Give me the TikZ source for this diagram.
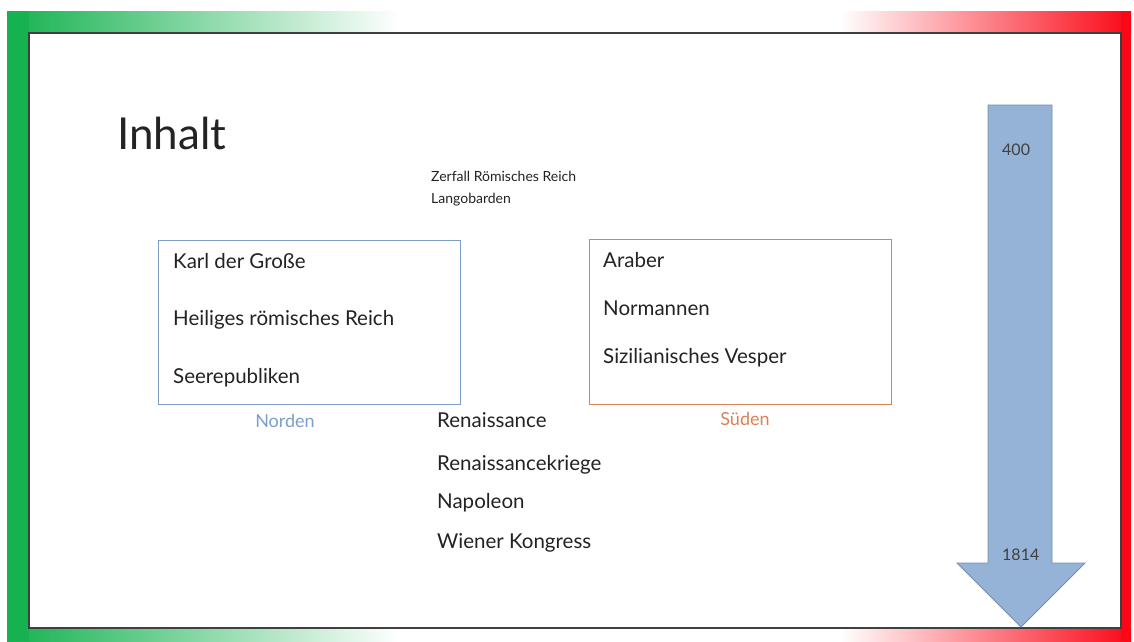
\documentclass[tikz,border=0pt]{standalone}
\usepackage{fontspec}
\setmainfont{Lato}
\usepackage{tikz}
\usetikzlibrary{positioning}
\definecolor{flaggreen}{RGB}{22,178,80}
\definecolor{flagred}{RGB}{250,8,22}
\definecolor{nordblue}{RGB}{125,158,200}
\definecolor{suedorange}{RGB}{222,128,82}
\definecolor{arrowblue}{RGB}{149,179,215}
\definecolor{txt}{RGB}{35,35,35}

\begin{document}
\begin{tikzpicture}[
      x=1pt,y=-1pt,
      item/.style={anchor=base west,inner sep=0pt,text=txt,font=\fontsize{20.5}{24}\selectfont},
      small/.style={anchor=base west,inner sep=0pt,text=txt,font=\fontsize{14}{16}\selectfont},
      region/.style={draw,line width=1pt,minimum width=302pt,minimum height=164pt,inner sep=0pt},
      side/.style={anchor=base,inner sep=0pt,font=\fontsize{18}{21}\selectfont},
      year/.style={anchor=base west,inner sep=0pt,text=black!75,font=\fontsize{16}{18}\selectfont}
    ]
    \useasboundingbox (0,0) rectangle (1134,641);
    % frame in the colours of the flag
    \shade[left color=flaggreen,right color=white] (7,11) rectangle (400,33);
    \shade[left color=white,right color=flagred] (840,11) rectangle (1131,33);
    \shade[left color=flaggreen,right color=white] (7,628) rectangle (400,641);
    \shade[left color=white,right color=flagred] (840,628) rectangle (1131,641);
    \fill[flaggreen] (7,11) rectangle (29,641);
    \fill[flagred] (1121,11) rectangle (1131,641);
    \draw[black!75,line width=1.2pt,fill=white] (29,33) rectangle (1121,628);

    \node[anchor=base west,inner sep=0pt,text=txt,font=\fontsize{44}{52}\selectfont] (title) at (117,149) {Inhalt};

    \node[small] (zerfall) at (431,181) {Zerfall Römisches Reich};
    \node[small] (lango) at (431,203) {Langobarden};

    % Norden
    \node[region,draw=nordblue] (nord) at (309,322) {};
    \node[item] (karl) at (173,268) {Karl der Große};
    \node[item] (hrr) at (173,325) {Heiliges römisches Reich};
    \node[item] (see) at (173,383) {Seerepubliken};
    \node[side,text=nordblue] (nordlbl) at (285,427) {Norden};

    % Süden
    \node[region,draw=suedorange,minimum height=165pt] (sued) at (740,322) {};
    \node[item] (araber) at (603,267) {Araber};
    \node[item] (normannen) at (603,315) {Normannen};
    \node[item] (vesper) at (603,363) {Sizilianisches Vesper};
    \node[side,text=suedorange] (suedlbl) at (745,425) {Süden};

    \node[item] (ren) at (437,427) {Renaissance};
    \node[item] (renkr) at (437,470) {Renaissancekriege};
    \node[item] (napo) at (437,508) {Napoleon};
    \node[item] (wien) at (437,548) {Wiener Kongress};

    % Zeitpfeil
    \draw[fill=arrowblue,draw=arrowblue!80!black,line width=0.8pt]
      (988,105) -- (1052,105) -- (1052,563) -- (1085,563) -- (1021,627)
      -- (957,563) -- (988,563) -- cycle;
    \node[year] (start) at (1002,155) {400};
    \node[year] (end) at (1002,560) {1814};
  \end{tikzpicture}
\end{document}
